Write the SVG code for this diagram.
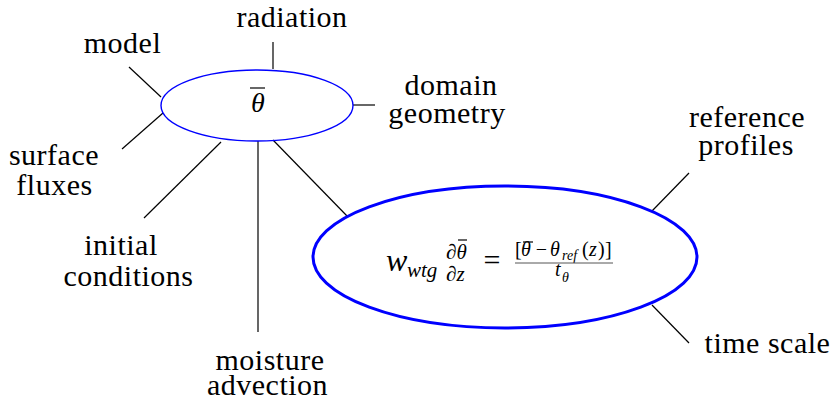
<svg xmlns="http://www.w3.org/2000/svg" width="834" height="401" viewBox="0 0 834 401">
<style>
.lbl { font-family: 'Liberation Serif', 'Times New Roman', serif; font-size: 30px; letter-spacing: 0.5px; fill: #000; text-anchor: middle; }
.m { font-family: 'Liberation Serif', 'Times New Roman', serif; font-style: italic; fill: #000; }
.u { font-family: 'Liberation Serif', 'Times New Roman', serif; fill: #000; }
.conn line { stroke: #000; stroke-width: 1.2; }
.bar { stroke: #000; stroke-width: 1.2; }
.small { fill: none; stroke: #0000ff; stroke-width: 1.4; }
.big { fill: none; stroke: #0000ff; stroke-width: 3; }
</style>
<rect width="834" height="401" fill="#fff"/>
<g id="connectors" class="conn">
  <line x1="273" y1="42" x2="273" y2="69"/>
  <line x1="129" y1="67" x2="161" y2="97"/>
  <line x1="353" y1="105" x2="375" y2="105"/>
  <line x1="122" y1="149" x2="163" y2="113"/>
  <line x1="144" y1="218" x2="221" y2="142"/>
  <line x1="258" y1="141" x2="258" y2="332"/>
  <line x1="273" y1="140" x2="348" y2="217"/>
  <line x1="689" y1="173" x2="652" y2="211"/>
  <line x1="652" y1="305" x2="689" y2="343"/>
</g>
<g id="node-theta">
  <ellipse class="small" cx="257" cy="105.5" rx="96" ry="35.5"/>
  <text class="m" x="258" y="112" font-size="28" text-anchor="middle">θ</text>
  <line class="bar" x1="250" y1="88" x2="265" y2="88"/>
</g>
<g id="node-wtg">
  <ellipse class="big" cx="505" cy="257" rx="192" ry="71"/>
  <text class="m" x="386" y="271" font-size="32">w</text>
  <text class="m" x="407" y="277" font-size="21">wtg</text>
  <text class="m" x="446" y="259" font-size="21">∂θ</text>
  <line class="bar" x1="458" y1="240" x2="467" y2="240"/>
  <text class="m" x="446" y="281" font-size="21">∂z</text>
  <text class="u" x="492" y="270" font-size="30" text-anchor="middle">=</text>
  <text class="u" x="515" y="256" font-size="20">[</text>
  <text class="m" x="521" y="256" font-size="20">θ</text>
  <line class="bar" x1="523" y1="242" x2="533" y2="242"/>
  <text class="u" x="541.5" y="256" font-size="20" text-anchor="middle">−</text>
  <text class="m" x="550" y="256" font-size="20">θ</text>
  <text class="m" x="562" y="260" font-size="14">ref</text>
  <text class="u" x="582" y="256" font-size="20">(</text>
  <text class="m" x="589" y="256" font-size="20">z</text>
  <text class="u" x="598" y="256" font-size="20">)</text>
  <text class="u" x="605" y="256" font-size="20">]</text>
  <line x1="515" y1="263" x2="613" y2="263" stroke="#555" stroke-width="1"/>
  <text class="m" x="555" y="276" font-size="20">t</text>
  <text class="m" x="562" y="282" font-size="14">θ</text>
</g>
<g id="label-radiation"><text class="lbl" x="292" y="27">radiation</text></g>
<g id="label-model"><text class="lbl" x="122.5" y="53">model</text></g>
<g id="label-domain"><text class="lbl" x="451" y="95">domain</text><text class="lbl" x="447" y="123">geometry</text></g>
<g id="label-surface"><text class="lbl" x="54" y="165">surface</text><text class="lbl" x="54.5" y="195">fluxes</text></g>
<g id="label-initial"><text class="lbl" x="121" y="255">initial</text><text class="lbl" x="128.5" y="286">conditions</text></g>
<g id="label-moisture"><text class="lbl" x="270" y="370">moisture</text><text class="lbl" x="267.5" y="395">advection</text></g>
<g id="label-reference"><text class="lbl" x="747" y="127">reference</text><text class="lbl" x="746" y="155">profiles</text></g>
<g id="label-time"><text class="lbl" x="767.5" y="353">time scale</text></g>
</svg>
